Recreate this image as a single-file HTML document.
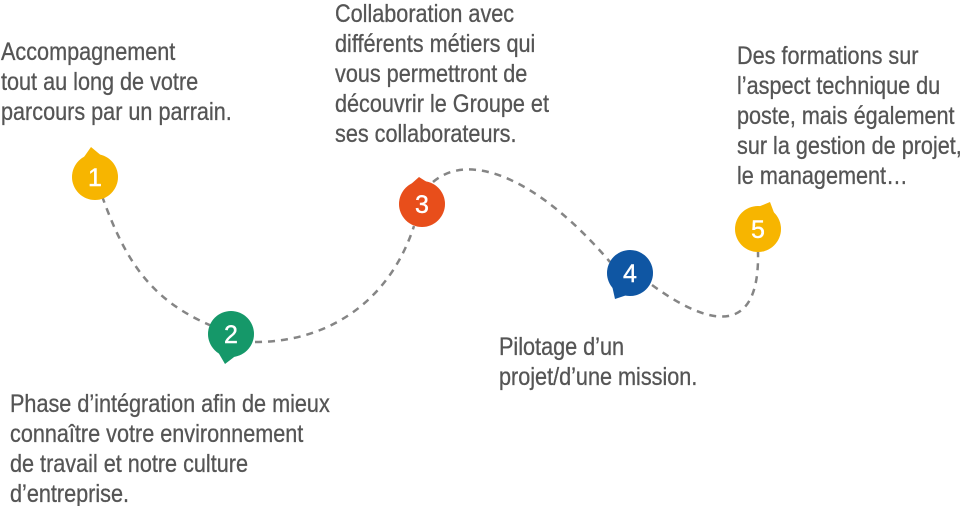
<!DOCTYPE html>
<html><head><meta charset="utf-8"><style>
html,body{margin:0;padding:0;background:#fff;width:963px;height:506px;overflow:hidden;position:relative}
.t{position:absolute;font-family:"Liberation Sans Narrow","Liberation Sans",sans-serif;font-size:25px;line-height:30px;color:#555;white-space:nowrap;transform:scaleX(0.865);transform-origin:0 0;-webkit-text-stroke:0.3px #555}
svg{position:absolute;left:0;top:0}
</style></head><body>
<svg width="963" height="506">
<g fill="none" stroke="#858585" stroke-width="2.5" stroke-dasharray="7,6">
<path d="M102 196 C125 260 150 300 212 326"/>
<path d="M255 342 C330 342 390 300 414 226"/>
<path d="M433 182 C470 150 540 180 610 262"/>
<path d="M652 285 C700 320 760 345 758 252"/>
</g>
<g font-family="Liberation Sans Narrow, Liberation Sans, sans-serif" font-size="25" fill="#fff" text-anchor="middle" stroke="#fff" stroke-width="0.4">
<path d="M84 157 L91 147 L103 157 Z" fill="#f7b500" stroke="none"/>
<circle cx="95" cy="177" r="23" fill="#f7b500" stroke="none"/><text x="95" y="186">1</text>
<path d="M218 352 L225 364 L238 354 Z" fill="#159869" stroke="none"/>
<circle cx="231" cy="334" r="23" fill="#159869" stroke="none"/><text x="231" y="343">2</text>
<path d="M410 185 L419 177 L430 184 Z" fill="#e84e1b" stroke="none"/>
<circle cx="422" cy="204" r="23" fill="#e84e1b" stroke="none"/><text x="422" y="213">3</text>
<path d="M611 281 L615 299 L630 294 Z" fill="#0f56a3" stroke="none"/>
<circle cx="630" cy="273" r="23" fill="#0f56a3" stroke="none"/><text x="630" y="282">4</text>
<path d="M758 207 L770 202 L776 218 Z" fill="#f7b500" stroke="none"/>
<circle cx="758" cy="229" r="23" fill="#f7b500" stroke="none"/><text x="758" y="238">5</text>
</g>
</svg>
<div class="t" style="left:1px;top:37px">Accompagnement<br>tout au long de votre<br>parcours par un parrain.</div>
<div class="t" style="left:335px;top:-1px">Collaboration avec<br>différents métiers qui<br>vous permettront de<br>découvrir le Groupe et<br>ses collaborateurs.</div>
<div class="t" style="left:737px;top:41px">Des formations sur<br>l’aspect technique du<br>poste, mais également<br>sur la gestion de projet,<br>le management…</div>
<div class="t" style="left:499px;top:332px">Pilotage d’un<br>projet/d’une mission.</div>
<div class="t" style="left:10px;top:389px">Phase d’intégration afin de mieux<br>connaître votre environnement<br>de travail et notre culture<br>d’entreprise.</div>
</body></html>
